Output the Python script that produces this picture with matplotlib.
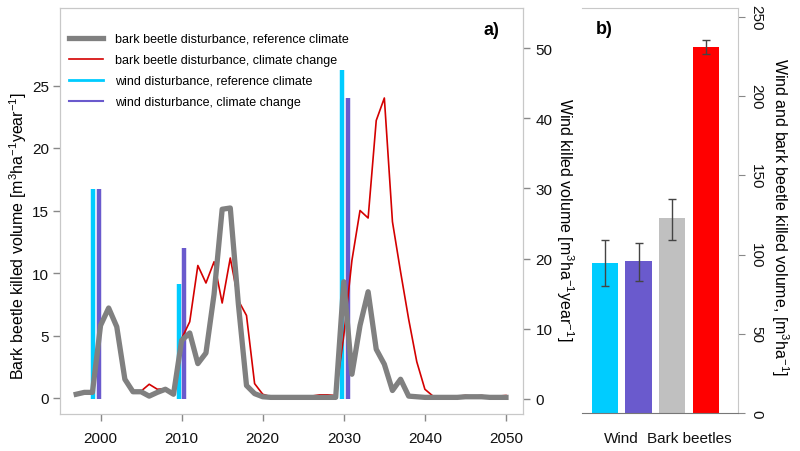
import matplotlib
matplotlib.use("Agg")
import matplotlib.pyplot as plt
from matplotlib.lines import Line2D

plt.rcParams['font.family'] = ['Liberation Sans', 'DejaVu Sans']
plt.rcParams['mathtext.fontset'] = 'custom'
plt.rcParams['mathtext.rm'] = 'Liberation Sans'
plt.rcParams['mathtext.it'] = 'Liberation Sans:italic'
plt.rcParams['mathtext.bf'] = 'Liberation Sans:bold'

# panel a: yearly killed volume
years = list(range(1997, 2051))
bb_ref = [0.3, 0.45, 0.45, 5.8, 7.2, 5.7, 1.5, 0.5, 0.5, 0.15,
          0.45, 0.7, 0.3, 4.6, 5.2, 2.75, 3.6, 8.3, 15.1, 15.2,
          7.5, 1.0, 0.35, 0.1, 0.05, 0.05, 0.05, 0.05, 0.05, 0.05,
          0.05, 0.05, 0.05, 9.3, 1.9, 5.8, 8.5, 3.9, 2.7, 0.6,
          1.5, 0.15, 0.1, 0.05, 0.05, 0.05, 0.05, 0.05, 0.1, 0.1,
          0.1, 0.05, 0.05, 0.05]
bb_cc = [0.3, 0.45, 0.45, 5.8, 7.2, 5.7, 1.5, 0.5, 0.55, 1.1,
         0.7, 0.75, 0.3, 4.75, 6.1, 10.6, 9.2, 10.9, 7.6, 11.2,
         7.8, 6.6, 1.15, 0.3, 0.1, 0.05, 0.05, 0.1, 0.1, 0.15,
         0.25, 0.25, 0.2, 5.0, 11.0, 15.0, 14.4, 22.2, 24.0, 14.1,
         10.1, 6.3, 2.9, 0.7, 0.15, 0.1, 0.1, 0.15, 0.2, 0.15,
         0.2, 0.1, 0.15, 0.2]

wind_year_ref = [1999.1, 2009.65, 2029.8]
wind_ref = [29.9, 16.4, 46.8]
wind_year_cc = [1999.8, 2010.25, 2030.5]
wind_cc = [29.9, 21.5, 42.9]

# panel b: totals
totals = [95, 96, 123, 231]
err_low = [80, 83.5, 109.5, 226.6]
err_high = [109.5, 107.6, 135, 235.6]
group_labels = ['Wind', 'Bark beetles']

c_gray = '#808080'
c_red = '#d40000'
c_cyan = '#00ccff'
c_purple = '#6a5acd'
spine_c = '#c8c8c8'

fig = plt.figure(figsize=(8, 4.52), dpi=100)

ax = fig.add_axes([60/800, 1-415/452, 463/800, 406/452])
ax2 = ax.twinx()
ax.set_zorder(ax2.get_zorder() + 1)
ax.patch.set_visible(False)

ax2.vlines(wind_year_ref, 0, wind_ref, color=c_cyan, lw=3.2)
ax2.vlines(wind_year_cc, 0, wind_cc, color=c_purple, lw=3.2)
ax.plot(years, bb_cc, color=c_red, lw=1.2)
ax.plot(years, bb_ref, color=c_gray, lw=3.8)

ax.set_xlim(1995.0, 2052.1)
ax.set_ylim(-1.28, 31.2)
ax2.set_ylim(-2.14, 55.7)
ax.set_xticks(range(2000, 2051, 10))
ax.set_yticks(range(0, 26, 5))
ax2.set_yticks(range(0, 51, 10))

for a in (ax, ax2):
    for s in a.spines.values():
        s.set_color(spine_c)
    a.tick_params(colors='#888888', labelcolor='#111111', labelsize=11,
                  length=5, width=1)
ax.tick_params(axis='x', pad=7)
ax.tick_params(axis='y', pad=3)
ax2.tick_params(axis='y', pad=4)

ax.set_ylabel('Bark beetle killed volume [m$^3$ha$^{-1}$year$^{-1}$]', fontsize=11.5,
              va='center')
ax.yaxis.set_label_coords(-0.091, 0.44)
ax2.set_ylabel('Wind killed volume [m$^3$ha$^{-1}$year$^{-1}$]', fontsize=11.5,
               rotation=-90, va='center')
ax2.yaxis.set_label_coords(1.09, 0.48)

handles = [Line2D([], [], color=c_gray, lw=3.8),
           Line2D([], [], color=c_red, lw=1.2),
           Line2D([], [], color=c_cyan, lw=2),
           Line2D([], [], color=c_purple, lw=1.5)]
labels = ['bark beetle disturbance, reference climate',
          'bark beetle disturbance, climate change',
          'wind disturbance, reference climate',
          'wind disturbance, climate change']
ax.legend(handles, labels, loc='upper left', bbox_to_anchor=(0.0, 0.96),
          frameon=False, fontsize=9, handlelength=2.7, handletextpad=1.0,
          labelspacing=0.72, borderaxespad=0.3)
ax.text(0.95, 0.947, 'a)', transform=ax.transAxes, ha='right', va='center',
        fontsize=13, fontweight='bold')

# panel b
bx = fig.add_axes([582/800, 1-414/452, 156/800, 405/452])
xpos = range(len(totals))
errs = [[t - lo for t, lo in zip(totals, err_low)],
        [hi - t for t, hi in zip(totals, err_high)]]
bx.bar(xpos, totals, width=0.78, color=[c_cyan, c_purple, '#c0c0c0', '#ff0000'],
       yerr=errs, ecolor='#444444', capsize=3, error_kw={'elinewidth': 1})
bx.set_xlim(-0.68, 3.95)
bx.set_ylim(0, 255.7)
bx.yaxis.tick_right()
bx.yaxis.set_label_position('right')
bx.set_yticks(range(0, 251, 50))
bx.set_yticklabels([str(v) for v in range(0, 251, 50)], rotation=-90, va='center')
bx.set_xticks([0.5, 2.5])
bx.set_xticklabels(group_labels)
bx.tick_params(axis='x', length=0, pad=13, labelsize=11, labelcolor='#111111')
bx.tick_params(axis='y', colors='#888888', labelcolor='#111111', labelsize=11,
               length=5, pad=3)
bx.spines['left'].set_visible(False)
bx.spines['top'].set_color(spine_c)
bx.spines['right'].set_color(spine_c)
bx.spines['bottom'].set_color('#777777')
bx.set_ylabel('Wind and bark beetle killed volume, [m$^3$ha$^{-1}$]', fontsize=11.5,
              rotation=-90, va='center')
bx.yaxis.set_label_coords(1.27, 0.486)
bx.text(0.09, 0.95, 'b)', transform=bx.transAxes, ha='left', va='center',
        fontsize=13, fontweight='bold')

fig.savefig('out.png', dpi=100)
